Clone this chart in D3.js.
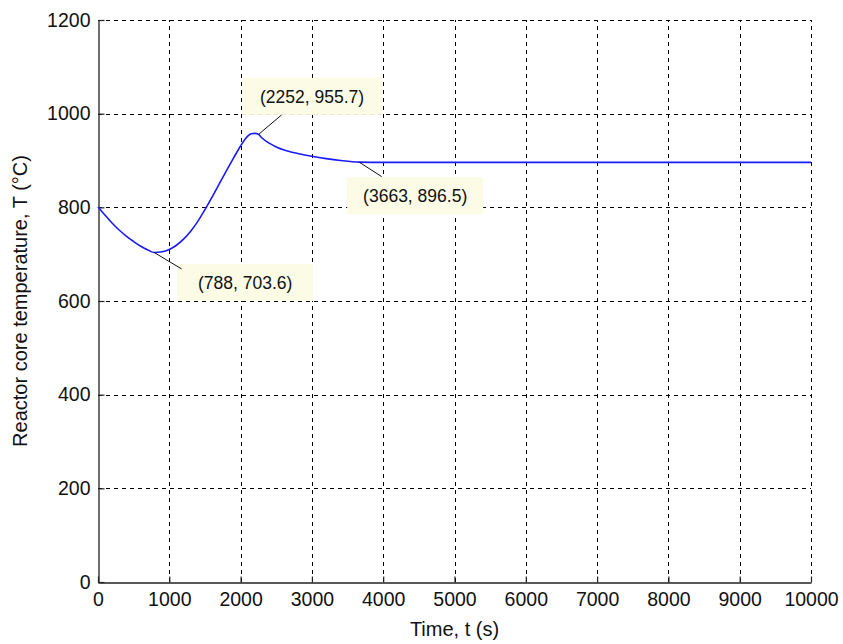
<!DOCTYPE html>
<html>
<head>
<meta charset="utf-8">
<script src="https://cdn.jsdelivr.net/npm/d3@7"></script>
<style>
  html, body { margin: 0; padding: 0; background: #fff; }
  svg { display: block; font-family: "Liberation Sans", Arial, sans-serif; }
</style>
</head>
<body>
<svg id="chart" width="843" height="644"></svg>
<script>
// Reactor core temperature response over time
const timeS = [0, 100, 200, 300, 400, 500, 600, 700, 788, 900, 1000, 1100, 1200, 1300, 1400,
  1500, 1600, 1700, 1800, 1900, 2000, 2100, 2150, 2200, 2252, 2300, 2400, 2500, 2600, 2800,
  3000, 3200, 3400, 3663, 4000, 5000, 6000, 7000, 8000, 9000, 10000];
const tempC = [801, 783, 766, 751, 738, 727, 717, 709, 703.6, 705, 710, 719, 732, 749, 770,
  795, 822, 850, 878, 905, 931, 952, 957, 958, 955.7, 948, 937, 929, 923, 915,
  909, 904, 900, 896.5, 896, 896, 896, 896, 896, 896, 896];

const xTicks = [0, 1000, 2000, 3000, 4000, 5000, 6000, 7000, 8000, 9000, 10000];
const yTicks = [0, 200, 400, 600, 800, 1000, 1200];

// Data tips: [time, temperature, label]
const tipTimes = [788, 2252, 3663];
const tipTemps = [703.6, 955.7, 896.5];
const tipLabels = ["(788, 703.6)", "(2252, 955.7)", "(3663, 896.5)"];

const xLabel = "Time, t (s)";
const yLabel = "Reactor core temperature, T (°C)";

const svg = d3.select("#chart");
const L = 98, R = 811, T = 20, B = 582;

const x = d3.scaleLinear().domain([0, 10000]).range([L, R]);
const y = d3.scaleLinear().domain([0, 1200]).range([B, T]);

// dashed grid
const grid = svg.append("g").attr("stroke", "#000").attr("stroke-width", 1)
  .attr("stroke-dasharray", "4,4").attr("shape-rendering", "crispEdges");
grid.selectAll(".vg").data(xTicks.slice(1)).join("line")
  .attr("x1", d => Math.round(x(d)) + 0.5).attr("x2", d => Math.round(x(d)) + 0.5)
  .attr("y1", B).attr("y2", T);
grid.selectAll(".hg").data(yTicks.slice(1)).join("line")
  .attr("y1", d => Math.round(y(d)) + 0.5).attr("y2", d => Math.round(y(d)) + 0.5)
  .attr("x1", L).attr("x2", R);

// axes with inward ticks
const xAxis = svg.append("g").attr("transform", `translate(0,${B + 0.5})`)
  .call(d3.axisBottom(x).tickValues(xTicks).tickSizeInner(-6).tickSizeOuter(0).tickPadding(14).tickFormat(d3.format("d")));
const yAxis = svg.append("g").attr("transform", `translate(${L + 0.5},0)`)
  .call(d3.axisLeft(y).tickValues(yTicks).tickSizeInner(-6).tickSizeOuter(0).tickPadding(8).tickFormat(d3.format("d")));
[xAxis, yAxis].forEach(a => {
  a.select(".domain").attr("stroke", "#222").attr("stroke-width", 1.3);
  a.selectAll(".tick line").attr("stroke", "#222").attr("stroke-width", 1.2);
  a.selectAll("text").attr("fill", "#111").attr("font-size", 19.5)
    .attr("font-family", "'Liberation Sans', Arial, sans-serif");
});
xAxis.selectAll(".tick text").attr("dy", "0.5em");

// temperature curve
const pts = timeS.map((t, i) => [t, tempC[i]]);
svg.append("path").datum(pts)
  .attr("fill", "none").attr("stroke", "#1a1aff").attr("stroke-width", 1.6)
  .attr("d", d3.line().x(d => x(d[0])).y(d => y(d[1])).curve(d3.curveMonotoneX));

// data tip boxes, offsets relative to each point
const boxOff = [[23, 11.5], [-16.5, -56.5], [-12, 15]];
const leadOff = [[27.5, 16.5], [23, -19.5], [22.5, 14.5]];
const boxW = [136, 140, 136], boxH = 37;
tipTimes.forEach((t, i) => {
  const px = x(t), py = y(tipTemps[i]);
  const g = svg.append("g");
  g.append("rect")
    .attr("x", px + boxOff[i][0]).attr("y", py + boxOff[i][1])
    .attr("width", boxW[i]).attr("height", boxH)
    .attr("fill", "#fbfbe6");
  g.append("line")
    .attr("x1", px).attr("y1", py)
    .attr("x2", px + leadOff[i][0]).attr("y2", py + leadOff[i][1])
    .attr("stroke", "#111").attr("stroke-width", 1);
  g.append("text")
    .attr("x", px + boxOff[i][0] + boxW[i] / 2)
    .attr("y", py + boxOff[i][1] + boxH / 2)
    .attr("dy", "0.36em").attr("text-anchor", "middle")
    .attr("font-size", 17.5).attr("fill", "#111")
    .text(tipLabels[i]);
});

// axis titles
svg.append("text").attr("x", (L + R) / 2).attr("y", 636)
  .attr("text-anchor", "middle").attr("font-size", 20).attr("fill", "#111").text(xLabel);
svg.append("text").attr("transform", `translate(27,${(T + B) / 2}) rotate(-90)`)
  .attr("text-anchor", "middle").attr("font-size", 20).attr("fill", "#111").text(yLabel);
</script>
</body>
</html>
